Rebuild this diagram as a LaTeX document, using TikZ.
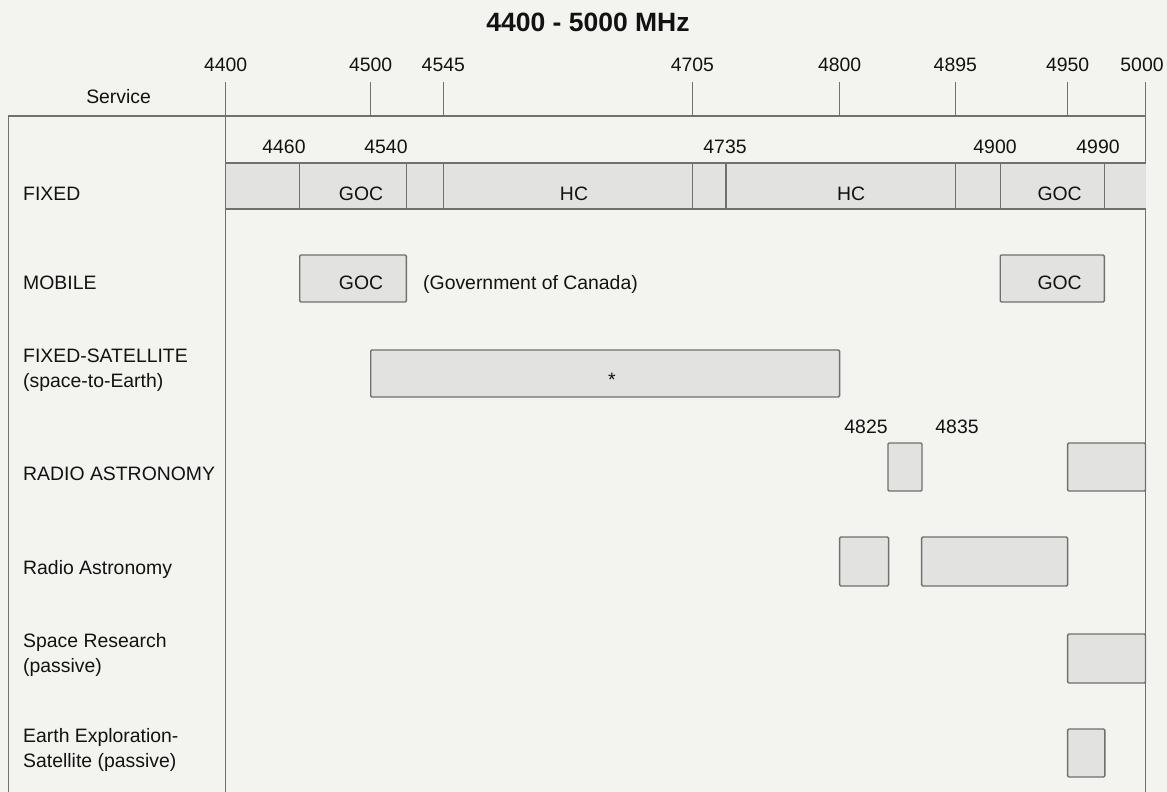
\documentclass[tikz,border=0pt]{standalone}
\usepackage{fontspec}
\setmainfont{Liberation Sans}
\definecolor{paper}{RGB}{243,243,240}
\definecolor{band}{RGB}{226,226,225}
\definecolor{rule}{RGB}{112,112,112}
\definecolor{ink}{RGB}{18,18,18}
\begin{document}
\begin{tikzpicture}[x=1pt,y=-1pt,
  lbl/.style={font=\fontsize{19.4}{23}\selectfont, text=ink, inner sep=0pt},
  ttl/.style={font=\fontsize{26.5}{31}\selectfont\bfseries, text=ink, inner sep=0pt},
  axis/.style={draw=rule, line width=1.4pt},
  bandbox/.style={draw=rule, fill=band, line width=1.4pt, rounded corners=1.2pt}]
\fill[paper] (0,0) rectangle (1167,792);
\useasboundingbox (0,0) rectangle (1167,792);

% title
\node[ttl, anchor=base] (title) at (588,31.5) {4400 - 5000 MHz};

% top tick labels
\foreach \f/\x in {4400/225.7,4500/370.7,4545/443.3,4705/692.4,4800/839.6,4895/955.3,4950/1067.6,5000/1142}
  \node[lbl, anchor=base] (t\f) at (\x,71) {\f};

% frame
\draw[axis] (8.4,792) -- (8.4,116) -- (1145.5,116);
\draw[axis] (225.7,82) -- (225.7,792);
\draw[axis] (1145.5,82) -- (1145.5,792);
\foreach \x in {370.7,443.3,692.4,839.6,955.3,1067.6}
  \draw[axis] (\x,82) -- (\x,116);

\node[lbl, anchor=base] (service) at (118.6,103) {Service};

% second-row labels
\foreach \f/\x in {4460/284,4540/386,4735/725,4900/995,4990/1098}
  \node[lbl, anchor=base] (s\f) at (\x,153) {\f};

% FIXED band
\fill[band] (225.7,163) rectangle (1145.5,209);
\draw[axis] (225.7,163) -- (1145.5,163);
\draw[axis] (225.7,209) -- (1145.5,209);
\foreach \x in {299.7,406.4,443.3,692.4,726,955.3,1000.2,1104.3}
  \draw[axis] (\x,163) -- (\x,209);
\node[lbl, anchor=base] (fgoc1) at (361,200) {GOC};
\node[lbl, anchor=base] (fhc1) at (574,200) {HC};
\node[lbl, anchor=base] (fhc2) at (851,200) {HC};
\node[lbl, anchor=base] (fgoc2) at (1059.6,200) {GOC};

% service names
\node[lbl, anchor=base west] (nfixed) at (23,200) {FIXED};
\node[lbl, anchor=base west] (nmobile) at (23,289) {MOBILE};
\node[lbl, anchor=base west] (nfss1) at (23,362) {FIXED-SATELLITE};
\node[lbl, anchor=base west] (nfss2) at (23,387) {(space-to-Earth)};
\node[lbl, anchor=base west] (nra) at (23,480) {RADIO ASTRONOMY};
\node[lbl, anchor=base west] (nra2) at (23,574) {Radio Astronomy};
\node[lbl, anchor=base west] (nsr1) at (23,647) {Space Research};
\node[lbl, anchor=base west] (nsr2) at (23,672) {(passive)};
\node[lbl, anchor=base west] (nees1) at (23,742) {Earth Exploration-};
\node[lbl, anchor=base west] (nees2) at (23,767) {Satellite (passive)};

% MOBILE
\draw[bandbox] (299.7,255) rectangle (406.4,302);
\node[lbl, anchor=base] (mgoc1) at (361,289) {GOC};
\node[lbl, anchor=base west] (mgov) at (423,289) {(Government of Canada)};
\draw[bandbox] (1000.2,255) rectangle (1104.3,302);
\node[lbl, anchor=base] (mgoc2) at (1059.6,289) {GOC};

% FIXED-SATELLITE
\draw[bandbox] (370.7,350) rectangle (839.6,397);
\node[lbl, anchor=base] (fssstar) at (612,386) {*};

% RADIO ASTRONOMY
\node[lbl, anchor=base] (l4825) at (866,433) {4825};
\node[lbl, anchor=base] (l4835) at (957,433) {4835};
\draw[bandbox] (888,443) rectangle (922,491);
\draw[bandbox] (1067.6,443) rectangle (1145.5,491);

% Radio Astronomy
\draw[bandbox] (839.6,537) rectangle (888.6,586);
\draw[bandbox] (921.6,537) rectangle (1067.6,586);

% Space Research
\draw[bandbox] (1067.6,634) rectangle (1145.5,683);

% EES
\draw[bandbox] (1067.6,729) rectangle (1104.8,777);
\end{tikzpicture}
\end{document}
